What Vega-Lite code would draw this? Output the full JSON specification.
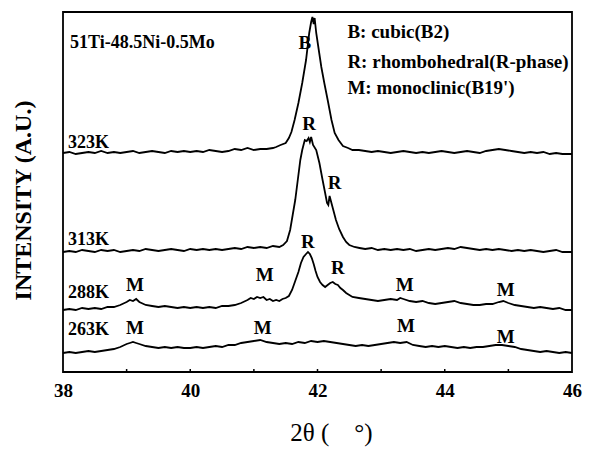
{
  "$schema": "https://vega.github.io/schema/vega-lite/v6.json",
  "width": 509,
  "height": 360,
  "autosize": {"type": "none"},
  "padding": {"left": 63, "top": 12, "right": 36, "bottom": 77},
  "background": "white",
  "config": {
    "view": {"stroke": "black", "strokeWidth": 1.8},
    "font": "Liberation Serif"
  },
  "datasets": {
    "curves": [
      {"k":"323K","t":38.0,"i":219},{"k":"323K","t":38.1,"i":220},{"k":"323K","t":38.2,"i":218},{"k":"323K","t":38.3,"i":219},{"k":"323K","t":38.4,"i":220},{"k":"323K","t":38.5,"i":219},{"k":"323K","t":38.6,"i":221},{"k":"323K","t":38.7,"i":219},{"k":"323K","t":38.8,"i":220},{"k":"323K","t":38.9,"i":219},{"k":"323K","t":39.0,"i":220},{"k":"323K","t":39.1,"i":221},{"k":"323K","t":39.2,"i":219},{"k":"323K","t":39.3,"i":220},{"k":"323K","t":39.4,"i":221},{"k":"323K","t":39.5,"i":220},{"k":"323K","t":39.6,"i":219},{"k":"323K","t":39.7,"i":221},{"k":"323K","t":39.8,"i":220},{"k":"323K","t":39.9,"i":221},{"k":"323K","t":40.0,"i":220},{"k":"323K","t":40.1,"i":221},{"k":"323K","t":40.2,"i":220},{"k":"323K","t":40.3,"i":222},{"k":"323K","t":40.4,"i":221},{"k":"323K","t":40.5,"i":220},{"k":"323K","t":40.6,"i":221},{"k":"323K","t":40.7,"i":223},{"k":"323K","t":40.8,"i":222},{"k":"323K","t":40.9,"i":224},{"k":"323K","t":41.0,"i":222},{"k":"323K","t":41.1,"i":223},{"k":"323K","t":41.2,"i":223},{"k":"323K","t":41.3,"i":224},{"k":"323K","t":41.35,"i":225},{"k":"323K","t":41.42,"i":227},{"k":"323K","t":41.5,"i":229},{"k":"323K","t":41.55,"i":234},{"k":"323K","t":41.59,"i":240},{"k":"323K","t":41.64,"i":252},{"k":"323K","t":41.7,"i":269},{"k":"323K","t":41.76,"i":289},{"k":"323K","t":41.82,"i":312},{"k":"323K","t":41.87,"i":339},{"k":"323K","t":41.9,"i":350},{"k":"323K","t":41.92,"i":355},{"k":"323K","t":41.94,"i":348},{"k":"323K","t":41.955,"i":354},{"k":"323K","t":41.98,"i":339},{"k":"323K","t":42.02,"i":322},{"k":"323K","t":42.06,"i":305},{"k":"323K","t":42.11,"i":288},{"k":"323K","t":42.16,"i":272},{"k":"323K","t":42.22,"i":252},{"k":"323K","t":42.27,"i":239},{"k":"323K","t":42.33,"i":232},{"k":"323K","t":42.4,"i":226},{"k":"323K","t":42.48,"i":224},{"k":"323K","t":42.55,"i":222},{"k":"323K","t":42.65,"i":222},{"k":"323K","t":42.75,"i":221},{"k":"323K","t":42.85,"i":220},{"k":"323K","t":42.95,"i":221},{"k":"323K","t":43.05,"i":220},{"k":"323K","t":43.15,"i":219},{"k":"323K","t":43.25,"i":220},{"k":"323K","t":43.35,"i":221},{"k":"323K","t":43.45,"i":220},{"k":"323K","t":43.55,"i":219},{"k":"323K","t":43.65,"i":220},{"k":"323K","t":43.75,"i":219},{"k":"323K","t":43.85,"i":220},{"k":"323K","t":43.95,"i":221},{"k":"323K","t":44.05,"i":220},{"k":"323K","t":44.15,"i":219},{"k":"323K","t":44.25,"i":220},{"k":"323K","t":44.35,"i":221},{"k":"323K","t":44.45,"i":220},{"k":"323K","t":44.55,"i":219},{"k":"323K","t":44.65,"i":221},{"k":"323K","t":44.75,"i":222},{"k":"323K","t":44.85,"i":223},{"k":"323K","t":44.95,"i":222},{"k":"323K","t":45.05,"i":221},{"k":"323K","t":45.15,"i":220},{"k":"323K","t":45.25,"i":219},{"k":"323K","t":45.35,"i":220},{"k":"323K","t":45.45,"i":219},{"k":"323K","t":45.55,"i":220},{"k":"323K","t":45.65,"i":218},{"k":"323K","t":45.75,"i":219},{"k":"323K","t":45.85,"i":218},{"k":"323K","t":46.0,"i":218},

      {"k":"313K","t":38.0,"i":120},{"k":"313K","t":38.1,"i":121},{"k":"313K","t":38.2,"i":120},{"k":"313K","t":38.3,"i":122},{"k":"313K","t":38.4,"i":121},{"k":"313K","t":38.5,"i":120},{"k":"313K","t":38.6,"i":122},{"k":"313K","t":38.7,"i":121},{"k":"313K","t":38.8,"i":122},{"k":"313K","t":38.9,"i":120},{"k":"313K","t":39.0,"i":121},{"k":"313K","t":39.1,"i":122},{"k":"313K","t":39.2,"i":121},{"k":"313K","t":39.3,"i":123},{"k":"313K","t":39.4,"i":122},{"k":"313K","t":39.5,"i":121},{"k":"313K","t":39.6,"i":122},{"k":"313K","t":39.7,"i":123},{"k":"313K","t":39.8,"i":122},{"k":"313K","t":39.9,"i":121},{"k":"313K","t":40.0,"i":123},{"k":"313K","t":40.1,"i":122},{"k":"313K","t":40.2,"i":123},{"k":"313K","t":40.3,"i":122},{"k":"313K","t":40.4,"i":123},{"k":"313K","t":40.5,"i":122},{"k":"313K","t":40.6,"i":123},{"k":"313K","t":40.7,"i":124},{"k":"313K","t":40.8,"i":123},{"k":"313K","t":40.9,"i":125},{"k":"313K","t":41.0,"i":124},{"k":"313K","t":41.1,"i":125},{"k":"313K","t":41.2,"i":124},{"k":"313K","t":41.3,"i":126},{"k":"313K","t":41.4,"i":125},{"k":"313K","t":41.46,"i":127},{"k":"313K","t":41.52,"i":131},{"k":"313K","t":41.57,"i":142},{"k":"313K","t":41.61,"i":157},{"k":"313K","t":41.65,"i":172},{"k":"313K","t":41.69,"i":192},{"k":"313K","t":41.73,"i":212},{"k":"313K","t":41.76,"i":222},{"k":"313K","t":41.8,"i":232},{"k":"313K","t":41.83,"i":231},{"k":"313K","t":41.86,"i":234},{"k":"313K","t":41.88,"i":230},{"k":"313K","t":41.9,"i":235},{"k":"313K","t":41.93,"i":227},{"k":"313K","t":41.98,"i":222},{"k":"313K","t":42.03,"i":209},{"k":"313K","t":42.08,"i":192},{"k":"313K","t":42.12,"i":179},{"k":"313K","t":42.15,"i":169},{"k":"313K","t":42.17,"i":167},{"k":"313K","t":42.19,"i":176},{"k":"313K","t":42.24,"i":164},{"k":"313K","t":42.29,"i":152},{"k":"313K","t":42.34,"i":143},{"k":"313K","t":42.4,"i":135},{"k":"313K","t":42.45,"i":130},{"k":"313K","t":42.5,"i":127},{"k":"313K","t":42.58,"i":125},{"k":"313K","t":42.66,"i":124},{"k":"313K","t":42.75,"i":123},{"k":"313K","t":42.85,"i":124},{"k":"313K","t":42.95,"i":122},{"k":"313K","t":43.05,"i":123},{"k":"313K","t":43.15,"i":122},{"k":"313K","t":43.25,"i":123},{"k":"313K","t":43.35,"i":122},{"k":"313K","t":43.45,"i":123},{"k":"313K","t":43.55,"i":121},{"k":"313K","t":43.65,"i":122},{"k":"313K","t":43.75,"i":123},{"k":"313K","t":43.85,"i":122},{"k":"313K","t":43.95,"i":123},{"k":"313K","t":44.05,"i":124},{"k":"313K","t":44.15,"i":123},{"k":"313K","t":44.25,"i":125},{"k":"313K","t":44.35,"i":124},{"k":"313K","t":44.45,"i":123},{"k":"313K","t":44.55,"i":122},{"k":"313K","t":44.65,"i":123},{"k":"313K","t":44.75,"i":122},{"k":"313K","t":44.85,"i":123},{"k":"313K","t":44.95,"i":122},{"k":"313K","t":45.05,"i":121},{"k":"313K","t":45.15,"i":122},{"k":"313K","t":45.25,"i":121},{"k":"313K","t":45.35,"i":122},{"k":"313K","t":45.45,"i":121},{"k":"313K","t":45.55,"i":120},{"k":"313K","t":45.65,"i":121},{"k":"313K","t":45.75,"i":122},{"k":"313K","t":45.85,"i":120},{"k":"313K","t":46.0,"i":120},

      {"k":"288K","t":38.0,"i":62},{"k":"288K","t":38.1,"i":63},{"k":"288K","t":38.2,"i":62},{"k":"288K","t":38.3,"i":64},{"k":"288K","t":38.4,"i":63},{"k":"288K","t":38.5,"i":64},{"k":"288K","t":38.6,"i":63},{"k":"288K","t":38.7,"i":65},{"k":"288K","t":38.8,"i":65},{"k":"288K","t":38.9,"i":67},{"k":"288K","t":39.0,"i":70},{"k":"288K","t":39.05,"i":72},{"k":"288K","t":39.1,"i":71},{"k":"288K","t":39.15,"i":73},{"k":"288K","t":39.2,"i":70},{"k":"288K","t":39.3,"i":67},{"k":"288K","t":39.4,"i":66},{"k":"288K","t":39.5,"i":65},{"k":"288K","t":39.6,"i":66},{"k":"288K","t":39.7,"i":65},{"k":"288K","t":39.8,"i":64},{"k":"288K","t":39.9,"i":65},{"k":"288K","t":40.0,"i":64},{"k":"288K","t":40.1,"i":65},{"k":"288K","t":40.2,"i":64},{"k":"288K","t":40.3,"i":65},{"k":"288K","t":40.4,"i":64},{"k":"288K","t":40.5,"i":66},{"k":"288K","t":40.6,"i":66},{"k":"288K","t":40.7,"i":67},{"k":"288K","t":40.8,"i":69},{"k":"288K","t":40.9,"i":72},{"k":"288K","t":40.95,"i":74},{"k":"288K","t":41.0,"i":73},{"k":"288K","t":41.05,"i":75},{"k":"288K","t":41.1,"i":74},{"k":"288K","t":41.15,"i":75},{"k":"288K","t":41.2,"i":72},{"k":"288K","t":41.25,"i":73},{"k":"288K","t":41.3,"i":71},{"k":"288K","t":41.35,"i":72},{"k":"288K","t":41.4,"i":71},{"k":"288K","t":41.45,"i":73},{"k":"288K","t":41.5,"i":74},{"k":"288K","t":41.55,"i":76},{"k":"288K","t":41.6,"i":82},{"k":"288K","t":41.65,"i":91},{"k":"288K","t":41.7,"i":100},{"k":"288K","t":41.74,"i":109},{"k":"288K","t":41.78,"i":115},{"k":"288K","t":41.82,"i":118},{"k":"288K","t":41.85,"i":120},{"k":"288K","t":41.88,"i":118},{"k":"288K","t":41.91,"i":114},{"k":"288K","t":41.94,"i":108},{"k":"288K","t":41.97,"i":101},{"k":"288K","t":42.0,"i":95},{"k":"288K","t":42.04,"i":90},{"k":"288K","t":42.08,"i":87},{"k":"288K","t":42.12,"i":85},{"k":"288K","t":42.16,"i":87},{"k":"288K","t":42.2,"i":89},{"k":"288K","t":42.24,"i":90},{"k":"288K","t":42.28,"i":88},{"k":"288K","t":42.32,"i":87},{"k":"288K","t":42.36,"i":84},{"k":"288K","t":42.4,"i":82},{"k":"288K","t":42.45,"i":79},{"k":"288K","t":42.5,"i":77},{"k":"288K","t":42.55,"i":75},{"k":"288K","t":42.65,"i":74},{"k":"288K","t":42.75,"i":73},{"k":"288K","t":42.85,"i":72},{"k":"288K","t":42.95,"i":71},{"k":"288K","t":43.05,"i":72},{"k":"288K","t":43.15,"i":73},{"k":"288K","t":43.25,"i":72},{"k":"288K","t":43.3,"i":74},{"k":"288K","t":43.35,"i":73},{"k":"288K","t":43.45,"i":71},{"k":"288K","t":43.55,"i":70},{"k":"288K","t":43.65,"i":71},{"k":"288K","t":43.75,"i":69},{"k":"288K","t":43.85,"i":68},{"k":"288K","t":43.95,"i":69},{"k":"288K","t":44.05,"i":70},{"k":"288K","t":44.15,"i":71},{"k":"288K","t":44.25,"i":69},{"k":"288K","t":44.35,"i":68},{"k":"288K","t":44.45,"i":67},{"k":"288K","t":44.55,"i":67},{"k":"288K","t":44.65,"i":68},{"k":"288K","t":44.75,"i":68},{"k":"288K","t":44.85,"i":70},{"k":"288K","t":44.92,"i":71},{"k":"288K","t":45.0,"i":69},{"k":"288K","t":45.1,"i":67},{"k":"288K","t":45.2,"i":66},{"k":"288K","t":45.3,"i":65},{"k":"288K","t":45.4,"i":64},{"k":"288K","t":45.5,"i":65},{"k":"288K","t":45.6,"i":64},{"k":"288K","t":45.7,"i":63},{"k":"288K","t":45.8,"i":64},{"k":"288K","t":45.9,"i":62},{"k":"288K","t":46.0,"i":62},

      {"k":"263K","t":38.0,"i":19},{"k":"263K","t":38.1,"i":20},{"k":"263K","t":38.2,"i":19},{"k":"263K","t":38.3,"i":20},{"k":"263K","t":38.4,"i":21},{"k":"263K","t":38.5,"i":20},{"k":"263K","t":38.6,"i":21},{"k":"263K","t":38.7,"i":22},{"k":"263K","t":38.8,"i":23},{"k":"263K","t":38.9,"i":25},{"k":"263K","t":39.0,"i":28},{"k":"263K","t":39.05,"i":29},{"k":"263K","t":39.1,"i":30},{"k":"263K","t":39.15,"i":29},{"k":"263K","t":39.2,"i":28},{"k":"263K","t":39.3,"i":26},{"k":"263K","t":39.4,"i":25},{"k":"263K","t":39.5,"i":24},{"k":"263K","t":39.6,"i":25},{"k":"263K","t":39.7,"i":24},{"k":"263K","t":39.8,"i":25},{"k":"263K","t":39.9,"i":24},{"k":"263K","t":40.0,"i":24},{"k":"263K","t":40.1,"i":25},{"k":"263K","t":40.2,"i":24},{"k":"263K","t":40.3,"i":25},{"k":"263K","t":40.4,"i":26},{"k":"263K","t":40.5,"i":25},{"k":"263K","t":40.6,"i":27},{"k":"263K","t":40.7,"i":27},{"k":"263K","t":40.8,"i":29},{"k":"263K","t":40.9,"i":30},{"k":"263K","t":41.0,"i":31},{"k":"263K","t":41.1,"i":32},{"k":"263K","t":41.2,"i":30},{"k":"263K","t":41.3,"i":29},{"k":"263K","t":41.4,"i":28},{"k":"263K","t":41.5,"i":29},{"k":"263K","t":41.6,"i":28},{"k":"263K","t":41.7,"i":30},{"k":"263K","t":41.8,"i":29},{"k":"263K","t":41.9,"i":31},{"k":"263K","t":42.0,"i":30},{"k":"263K","t":42.1,"i":31},{"k":"263K","t":42.2,"i":30},{"k":"263K","t":42.3,"i":29},{"k":"263K","t":42.4,"i":28},{"k":"263K","t":42.5,"i":27},{"k":"263K","t":42.6,"i":26},{"k":"263K","t":42.7,"i":27},{"k":"263K","t":42.8,"i":26},{"k":"263K","t":42.9,"i":27},{"k":"263K","t":43.0,"i":28},{"k":"263K","t":43.1,"i":29},{"k":"263K","t":43.2,"i":30},{"k":"263K","t":43.3,"i":29},{"k":"263K","t":43.4,"i":30},{"k":"263K","t":43.5,"i":27},{"k":"263K","t":43.6,"i":26},{"k":"263K","t":43.7,"i":25},{"k":"263K","t":43.8,"i":26},{"k":"263K","t":43.9,"i":25},{"k":"263K","t":44.0,"i":26},{"k":"263K","t":44.1,"i":25},{"k":"263K","t":44.2,"i":24},{"k":"263K","t":44.3,"i":25},{"k":"263K","t":44.4,"i":24},{"k":"263K","t":44.5,"i":25},{"k":"263K","t":44.6,"i":25},{"k":"263K","t":44.7,"i":26},{"k":"263K","t":44.8,"i":27},{"k":"263K","t":44.9,"i":27},{"k":"263K","t":45.0,"i":26},{"k":"263K","t":45.1,"i":25},{"k":"263K","t":45.2,"i":23},{"k":"263K","t":45.3,"i":22},{"k":"263K","t":45.4,"i":21},{"k":"263K","t":45.5,"i":20},{"k":"263K","t":45.6,"i":21},{"k":"263K","t":45.7,"i":20},{"k":"263K","t":45.8,"i":19},{"k":"263K","t":45.9,"i":20},{"k":"263K","t":46.0,"i":19}
    ],
    "ticks": [
      {"t":39,"lo":0,"hi":3},{"t":40,"lo":0,"hi":3},{"t":41,"lo":0,"hi":3},{"t":42,"lo":0,"hi":3},{"t":43,"lo":0,"hi":3},{"t":44,"lo":0,"hi":3},{"t":45,"lo":0,"hi":3}
    ],
    "phases": [
      {"txt":"B","t":41.8,"i":329},
      {"txt":"R","t":41.87,"i":248},
      {"txt":"R","t":42.27,"i":189},
      {"txt":"R","t":41.85,"i":130},
      {"txt":"R","t":42.32,"i":104},
      {"txt":"M","t":39.13,"i":87},
      {"txt":"M","t":41.17,"i":97},
      {"txt":"M","t":43.37,"i":87},
      {"txt":"M","t":44.96,"i":82},
      {"txt":"M","t":39.13,"i":44},
      {"txt":"M","t":41.14,"i":44},
      {"txt":"M","t":43.39,"i":46},
      {"txt":"M","t":44.96,"i":35}
    ],
    "temps": [
      {"txt":"323K","t":38.08,"i":229},
      {"txt":"313K","t":38.08,"i":132},
      {"txt":"288K","t":38.08,"i":79},
      {"txt":"263K","t":38.08,"i":42}
    ],
    "legend": [
      {"txt":"B: cubic(B2)","t":42.47,"i":340},
      {"txt":"R: rhombohedral(R-phase)","t":42.47,"i":310},
      {"txt":"M: monoclinic(B19')","t":42.47,"i":284}
    ],
    "alloy": [
      {"txt":"51Ti-48.5Ni-0.5Mo","t":38.11,"i":329}
    ]
  },
  "layer": [
    {
      "data": {"name": "curves"},
      "mark": {"type": "line", "color": "black", "strokeWidth": 1.8, "interpolate": "linear"},
      "encoding": {
        "x": {
          "field": "t", "type": "quantitative",
          "scale": {"domain": [38, 46], "nice": false, "zero": false},
          "axis": {
            "values": [38, 40, 42, 44, 46],
            "format": "d",
            "grid": false, "domain": false, "ticks": false,
            "labelFont": "Liberation Serif", "labelFontWeight": "bold", "labelFontSize": 19,
            "labelColor": "black", "labelPadding": 9, "labelFlush": false,
            "title": "2θ (\u00a0\u00a0\u00a0\u00a0°)",
            "titleFont": "Liberation Serif", "titleFontWeight": "normal", "titleFontSize": 25,
            "titleColor": "black", "titleX": 268, "titleY": 60, "titleBaseline": "middle", "titleAlign": "center"
          }
        },
        "y": {
          "field": "i", "type": "quantitative",
          "scale": {"domain": [0, 360], "nice": false, "zero": false},
          "axis": {
            "domain": false, "ticks": false, "labels": false, "grid": false,
            "title": "INTENSITY (A.U.)",
            "titleFont": "Liberation Serif", "titleFontWeight": "bold", "titleFontSize": 24,
            "titleColor": "black", "titleX": -40, "titleY": 188, "titleBaseline": "middle", "titleAlign": "center", "titleAngle": -90
          }
        },
        "detail": {"field": "k"}
      }
    },
    {
      "data": {"name": "ticks"},
      "mark": {"type": "rule", "color": "black", "strokeWidth": 1.5},
      "encoding": {
        "x": {"field": "t", "type": "quantitative"},
        "y": {"field": "lo", "type": "quantitative"},
        "y2": {"field": "hi"}
      }
    },
    {
      "data": {"name": "phases"},
      "mark": {"type": "text", "font": "Liberation Serif", "fontWeight": "bold", "fontSize": 19, "color": "black", "align": "center", "baseline": "middle"},
      "encoding": {
        "x": {"field": "t", "type": "quantitative"},
        "y": {"field": "i", "type": "quantitative"},
        "text": {"field": "txt"}
      }
    },
    {
      "data": {"name": "temps"},
      "mark": {"type": "text", "font": "Liberation Serif", "fontWeight": "bold", "fontSize": 18, "color": "black", "align": "left", "baseline": "middle"},
      "encoding": {
        "x": {"field": "t", "type": "quantitative"},
        "y": {"field": "i", "type": "quantitative"},
        "text": {"field": "txt"}
      }
    },
    {
      "data": {"name": "legend"},
      "mark": {"type": "text", "font": "Liberation Serif", "fontWeight": "bold", "fontSize": 19, "color": "black", "align": "left", "baseline": "middle"},
      "encoding": {
        "x": {"field": "t", "type": "quantitative"},
        "y": {"field": "i", "type": "quantitative"},
        "text": {"field": "txt"}
      }
    },
    {
      "data": {"name": "alloy"},
      "mark": {"type": "text", "font": "Liberation Serif", "fontWeight": "bold", "fontSize": 18, "color": "black", "align": "left", "baseline": "middle"},
      "encoding": {
        "x": {"field": "t", "type": "quantitative"},
        "y": {"field": "i", "type": "quantitative"},
        "text": {"field": "txt"}
      }
    }
  ]
}
